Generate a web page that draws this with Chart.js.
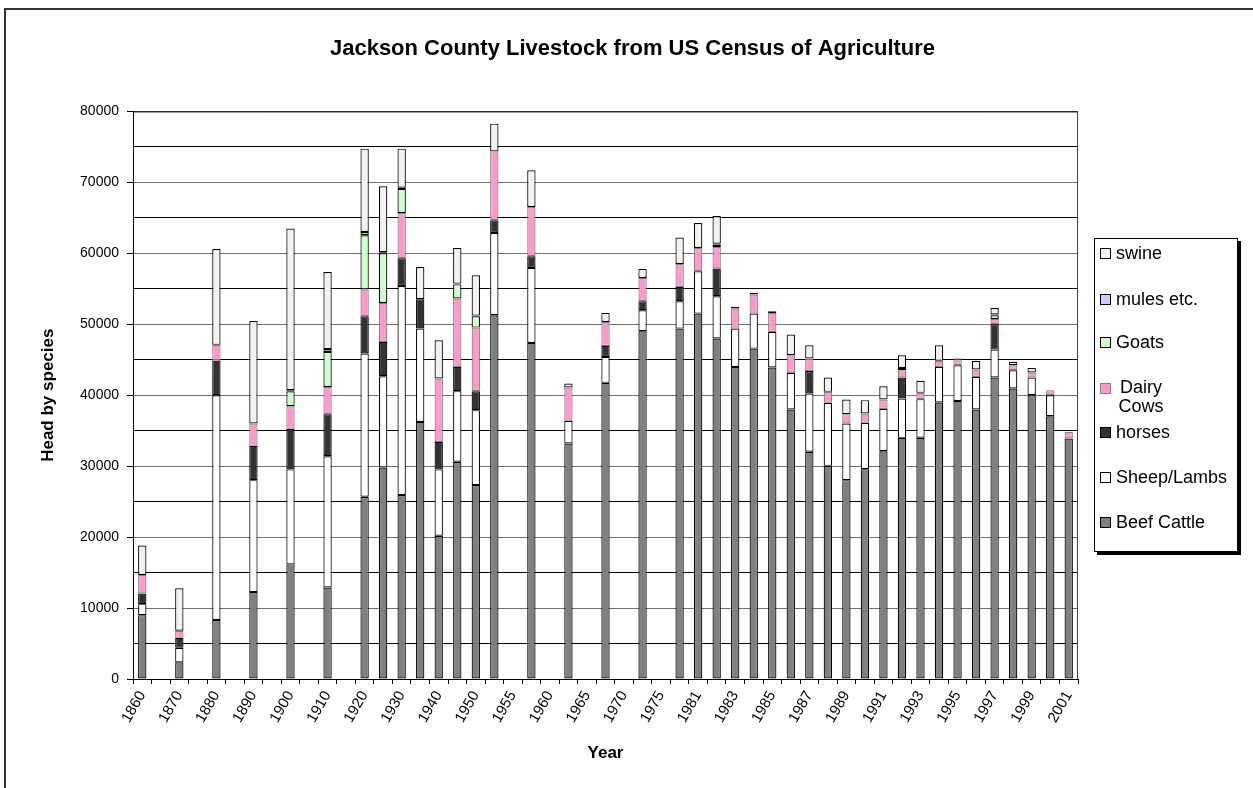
<!DOCTYPE html>
<html>
<head>
<meta charset="utf-8">
<title>Jackson County Livestock</title>
<script src="https://cdn.jsdelivr.net/npm/chart.js@4.4.1/dist/chart.umd.min.js"></script>
<style>
  html, body { margin: 0; padding: 0; background: #fff; }
  #wrap { position: relative; width: 1253px; height: 788px; overflow: hidden; background: #fff; }
  #frame { position: absolute; left: 4px; top: 8px; width: 1400px; height: 900px;
           border-left: 2px solid #333; border-top: 2px solid #333; box-sizing: border-box; }
  #chart { position: absolute; left: 0; top: 0; }
  #legend { position: absolute; left: 1094px; top: 238px; width: 144px; height: 314px;
            box-sizing: border-box; border: 1px solid #000; background: #fff;
            box-shadow: 3px 3px 0 #000;
            font-family: "Liberation Sans", Arial, sans-serif; font-size: 18px; color: #000; }
  .item { position: absolute; left: 5px; line-height: 20px; }
  .sw { position: absolute; left: 0; top: 5px; width: 9px; height: 9px; border: 1px solid #000; }
  .txt { position: absolute; left: 16px; top: 0; white-space: nowrap; }
  .txt.two { white-space: normal; width: 50px; text-align: center; line-height: 19px; }
</style>
</head>
<body>
<div id="wrap">
  <div id="frame"></div>
  <canvas id="chart" width="1253" height="788"></canvas>
  <div id="legend"></div>
</div>
<script>
// Census years on the category axis; blank entries are unlabeled categories
const years = [
  '1860','', '1870','', '1880','', '1890','', '1900','', '1910','',
  '1920','', '1930','', '1940','', '1950','', '1955','', '1960','', '1965','',
  '1970','', '1975','', '1981','', '1983','', '1985','', '1987','', '1989','',
  '1991','', '1993','', '1995','', '1997','', '1999','', '2001'
];

// Head counts by species (null = no census count for that category)
const beefCattle = [9000,null,2350,null,8300,null,12250,null,16150,null,12900,null,
  25680,29810,25920,36240,20180,30610,27330,51270,null,47370,null,33190,null,41740,null,49020,null,
  49390,51500,47990,43990,46570,43900,37990,32020,30040,28030,29580,32110,33990,34000,38970,39200,
  37990,42490,40940,40000,37040,33900];
const sheepLambs = [1550,null,2050,null,31700,null,15780,null,13390,null,18500,null,
  20190,12870,29480,13160,9360,9960,10560,11590,null,10570,null,3200,null,3660,null,2960,null,
  3850,5960,5960,5400,4930,5020,5150,8220,8880,7990,6520,5960,5550,5440,5020,5030,
  4590,3940,2580,2490,2960,0];
const horses = [1500,null,1400,null,4900,null,4830,null,5720,null,5920,null,
  5260,4830,3900,4120,3880,3420,2680,1790,null,1640,null,0,null,1550,null,1260,null,
  2020,0,3900,0,0,0,0,3180,0,0,0,0,2960,0,0,0,
  0,3570,0,0,0,0];
const dairyCows = [2600,null,1000,null,2200,null,3150,null,3190,null,3850,null,
  3760,5500,6380,0,8930,9630,8960,9720,null,6950,null,4700,null,3380,null,3290,null,
  3240,3290,3040,2820,2680,2680,2490,1750,1550,1310,1320,1330,1030,890,850,840,
  1040,750,710,700,710,940];
const goats = [0,null,0,null,0,null,0,null,2100,null,4930,null,
  7650,7000,3400,0,0,2000,1600,0,null,0,null,0,null,0,null,0,null,
  0,0,350,0,0,0,0,0,0,0,0,0,300,0,0,0,
  0,520,0,0,0,0];
const mules = [0,null,0,null,0,null,0,null,150,null,400,null,
  470,150,150,0,0,110,90,0,null,0,null,0,null,0,null,0,null,
  0,0,100,0,0,0,0,0,0,0,0,0,0,0,0,0,
  0,100,0,0,0,0];
const swine = [4150,null,6000,null,13500,null,14460,null,22780,null,10870,null,
  11740,9280,5520,4550,5400,5020,5680,3900,null,5160,null,560,null,1270,null,1270,null,
  3710,3520,3920,240,240,240,2920,1870,2030,2070,1880,1870,1800,1690,2200,100,
  1220,930,470,660,0,0];

// Y axis range and spacing of the horizontal rules
const yMax = 80000;
const gridStep = 5000;
const labelStep = 10000;

const FONT = '"Liberation Sans", Arial, sans-serif';

// Stack order: bottom of the column first
const series = [
  { label: 'Beef Cattle', data: beefCattle, fill: '#808080', edge: '#000000' },
  { label: 'Sheep/Lambs', data: sheepLambs, fill: '#FFFFFF', edge: '#000000' },
  { label: 'horses',      data: horses,     fill: '#333333', edge: '#000000' },
  { label: 'Dairy Cows',  data: dairyCows,  fill: '#FF99CC', edge: '#808080' },
  { label: 'Goats',       data: goats,      fill: '#CCFFCC', edge: '#000000' },
  { label: 'mules etc.',  data: mules,      fill: '#CCCCFF', edge: '#000000' },
  { label: 'swine',       data: swine,      fill: '#F2F2F2', edge: '#000000' }
];

// Border around the plot area (top and right edges)
const plotFrame = {
  id: 'plotFrame',
  afterDatasetsDraw(chart) {
    const { ctx, chartArea: a } = chart;
    ctx.save();
    ctx.lineWidth = 1;
    ctx.strokeStyle = '#000';
    ctx.beginPath();
    ctx.moveTo(a.left, a.top + 0.5);
    ctx.lineTo(a.right, a.top + 0.5);
    ctx.stroke();
    ctx.strokeStyle = '#404040';
    ctx.beginPath();
    ctx.moveTo(a.right - 0.5, a.top);
    ctx.lineTo(a.right - 0.5, a.bottom);
    ctx.stroke();
    ctx.restore();
  }
};

new Chart(document.getElementById('chart'), {
  type: 'bar',
  data: {
    labels: years,
    datasets: series.map(s => ({
      label: s.label,
      data: s.data,
      backgroundColor: s.fill,
      borderColor: s.edge,
      borderWidth: 1.2,
      borderSkipped: false,
      categoryPercentage: 1,
      barPercentage: 0.45
    }))
  },
  options: {
    responsive: false,
    animation: false,
    layout: { padding: { left: 12, right: 0, top: 0, bottom: 0 } },
    plugins: {
      legend: { display: false },
      tooltip: { enabled: false },
      title: {
        display: true,
        text: 'Jackson County Livestock from US Census of Agriculture',
        color: '#000',
        font: { family: FONT, size: 22, weight: 'bold' },
        padding: { top: 36, bottom: 49 }
      }
    },
    scales: {
      x: {
        stacked: true,
        offset: true,
        grid: {
          offset: true,
          drawOnChartArea: false,
          drawTicks: true,
          tickLength: 5,
          tickColor: '#000'
        },
        border: { display: true, color: '#000', width: 1 },
        ticks: {
          autoSkip: false,
          minRotation: 60,
          maxRotation: 60,
          padding: 4,
          color: '#000',
          font: { family: FONT, size: 15 }
        },
        title: {
          display: true,
          text: 'Year',
          color: '#000',
          font: { family: FONT, size: 17, weight: 'bold' },
          padding: { top: 0, bottom: 24 }
        },
        afterFit(scale) { scale.height = 109; }
      },
      y: {
        stacked: true,
        min: 0,
        max: yMax,
        ticks: {
          stepSize: gridStep,
          color: '#000',
          padding: 8,
          font: { family: FONT, size: 14 },
          callback: v => (v % labelStep === 0 ? String(v) : '')
        },
        grid: {
          tickLength: 6,
          lineWidth: 1,
          color: c => (c.tick && c.tick.value % labelStep === 0 ? '#707070' : '#000000'),
          tickColor: c => (c.tick && c.tick.value % labelStep === 0 ? '#000000' : 'rgba(0,0,0,0)')
        },
        border: { display: true, color: '#000', width: 1 },
        title: {
          display: true,
          text: 'Head by species',
          color: '#000',
          font: { family: FONT, size: 17, weight: 'bold' },
          padding: { top: 26, bottom: 0 }
        },
        afterFit(scale) { scale.width = 121; }
      },
      // empty right-hand band that leaves room for the legend box
      legendBand: {
        position: 'right',
        display: true,
        grid: { display: false },
        ticks: { display: false },
        border: { display: false },
        afterFit(scale) { scale.width = 175; }
      }
    }
  },
  plugins: [plotFrame]
});

// Legend box: top entry is the last series in the stack
const legendTops = [4, 50, 93, 139, 183, 228, 273];
const legendEl = document.getElementById('legend');
series.slice().reverse().forEach((s, i) => {
  const item = document.createElement('div');
  item.className = 'item';
  item.style.top = legendTops[i] + 'px';
  const sw = document.createElement('div');
  sw.className = 'sw';
  sw.style.background = s.fill;
  sw.style.borderColor = s.edge;
  const txt = document.createElement('div');
  txt.className = 'txt' + (s.label === 'Dairy Cows' ? ' two' : '');
  txt.textContent = s.label;
  item.appendChild(sw);
  item.appendChild(txt);
  legendEl.appendChild(item);
});
</script>
</body>
</html>
